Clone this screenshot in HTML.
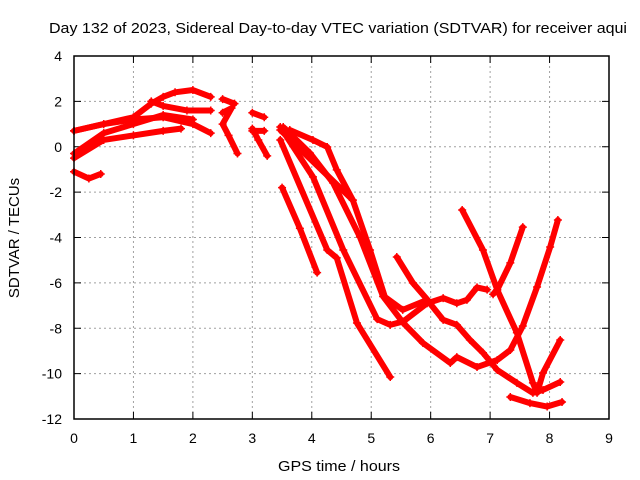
<!DOCTYPE html>
<html><head><meta charset="utf-8"><style>
body{margin:0;background:#fff;}
svg{display:block;font-family:"Liberation Sans",sans-serif;}
</style></head><body>
<svg id="chart" width="640" height="480" viewBox="0 0 640 480">
<rect width="640" height="480" fill="#fff"/>
<text x="49" y="33" font-size="15" textLength="578" lengthAdjust="spacingAndGlyphs">Day 132 of 2023, Sidereal Day-to-day VTEC variation (SDTVAR) for receiver aqui</text>
<text x="339" y="471" font-size="15" textLength="122" lengthAdjust="spacingAndGlyphs" text-anchor="middle">GPS time / hours</text>
<text transform="translate(19,238) rotate(-90)" font-size="15" text-anchor="middle">SDTVAR / TECUs</text>
<g id="grid"></g><g id="ticks"></g><g id="series"></g>
<rect x="74" y="56" width="535" height="363" fill="none" stroke="#000" stroke-width="1.5"/>
</svg>
<script>
const xTicks=[0,1,2,3,4,5,6,7,8,9];
const yTicks=[4,2,0,-2,-4,-6,-8,-10,-12];
const tA=[[0,0.7],[0.5,1.0],[1,1.3],[1.3,1.9],[1.5,2.2],[1.7,2.4],[2.0,2.5],[2.3,2.2]];
const tB=[[0,0.7],[0.5,1.0],[1,1.2],[1.5,1.3],[2.0,1.0],[2.3,0.6]];
const tC=[[1.3,2.0],[1.5,1.8],[1.9,1.6],[2.3,1.6]];
const tD=[[0,-0.5],[0.5,0.3],[1,0.5],[1.5,0.7],[1.8,0.8]];
const tE=[[0,-0.3],[0.5,0.6],[1,1.0],[1.5,1.4],[2.0,1.2]];
const tF=[[0,-1.1],[0.25,-1.4],[0.45,-1.2]];
const tG=[[2.5,2.1],[2.7,1.9]];
const tH=[[2.5,1.5],[2.65,1.7],[2.5,1.0],[2.6,0.5],[2.75,-0.3]];
const tI=[[3.0,1.5],[3.2,1.3]];
const tJ=[[3.0,0.7],[3.2,0.7]];
const tK=[[3.0,0.8],[3.1,0.3],[3.25,-0.4]];
const tL1=[[3.5,-1.8],[3.8,-3.6],[4.09,-5.55]];
const tL2=[[3.47,0.3],[4.26,-4.55],[4.42,-4.9],[4.76,-7.77],[5.32,-10.15]];
const tL3=[[3.47,0.87],[4.02,-1.33],[4.53,-4.55],[5.1,-7.6],[5.32,-7.85],[5.54,-7.7],[5.94,-6.9],[6.21,-6.67],[6.44,-6.9],[6.61,-6.75],[6.78,-6.2],[6.95,-6.3]];
const tL4=[[3.52,0.87],[3.97,-0.28],[4.36,-1.6],[4.81,-3.98],[5.2,-6.6],[5.54,-7.77],[5.87,-8.65],[6.33,-9.53],[6.44,-9.27],[6.78,-9.71],[7.12,-9.4],[7.34,-8.96],[7.55,-7.9],[7.79,-6.18],[8.01,-4.42],[8.14,-3.23]];
const tL5=[[3.63,0.74],[4.02,0.3],[4.26,-0.01],[4.42,-1.02],[4.69,-2.35],[4.98,-4.55],[5.23,-6.62],[5.53,-7.19],[5.94,-6.75],[6.21,-7.63],[6.44,-7.85],[6.66,-8.51],[6.88,-9.08],[7.12,-9.84],[7.45,-10.41],[7.72,-10.85],[7.89,-10.72],[8.18,-10.37]];
const tM=[[3.47,0.74],[4.69,-2.35]];
const tL6=[[6.53,-2.79],[6.88,-4.55],[7.12,-6.31],[7.45,-8.2],[7.72,-10.41],[7.79,-10.85],[7.89,-9.97],[8.18,-8.52]];
const tL7=[[5.43,-4.86],[5.7,-6.0],[5.99,-6.88]];
const tL8=[[7.05,-6.5],[7.12,-6.31],[7.34,-5.12],[7.55,-3.54]];
const tL9=[[7.34,-11.03],[7.67,-11.3],[7.96,-11.45],[8.21,-11.25]];
const tracks=[tA,tB,tC,tD,tE,tF,tG,tH,tI,tJ,tK,tL1,tL2,tL3,tL4,tL5,tM,tL6,tL7,tL8,tL9];

const X=h=>74+h*(535/9);
const Y=v=>56+(4-v)*(363/16);
const NS="http://www.w3.org/2000/svg";
function mk(tag,attrs,parent){const e=document.createElementNS(NS,tag);for(const k in attrs)e.setAttribute(k,attrs[k]);parent.appendChild(e);return e;}
const grid=document.getElementById('grid'),ticks=document.getElementById('ticks'),ser=document.getElementById('series');
xTicks.forEach(t=>{
  const x=X(t);
  if(t>0&&t<9){const g=mk('line',{x1:x,y1:56,x2:x,y2:419,stroke:'#a0a0a0','stroke-dasharray':'2,3'},grid);
  
  }
  mk('line',{x1:x,y1:419,x2:x,y2:412,stroke:'#000'},ticks);
  mk('line',{x1:x,y1:56,x2:x,y2:63,stroke:'#000'},ticks);
  const l=mk('text',{x:x,y:443,'font-size':14,'text-anchor':'middle'},ticks);l.textContent=t;
  
  
});
yTicks.forEach(t=>{
  const y=Y(t);
  if(t<4&&t>-12){const g=mk('line',{x1:74,y1:y,x2:609,y2:y,stroke:'#a0a0a0','stroke-dasharray':'2,3'},grid);
  
  }
  mk('line',{x1:74,y1:y,x2:81,y2:y,stroke:'#000'},ticks);
  mk('line',{x1:602,y1:y,x2:609,y2:y,stroke:'#000'},ticks);
  const l=mk('text',{x:62,y:y+5,'font-size':14,'text-anchor':'end'},ticks);l.textContent=t;
  
  
});
tracks.forEach((tr,i)=>{
  const g=mk('g',{},ser);
  
  
  mk('polyline',{points:tr.map(p=>X(p[0])+','+Y(p[1])).join(' '),fill:'none',stroke:'#f00','stroke-width':6,'stroke-linejoin':'round','stroke-linecap':'round'},g);
  tr.forEach(p=>{const x=X(p[0]),y=Y(p[1]);
    mk('path',{d:`M${x-4},${y}H${x+4}M${x},${y-4}V${y+4}`,stroke:'#f00','stroke-width':1.5},g);});
});
</script>
</body></html>
